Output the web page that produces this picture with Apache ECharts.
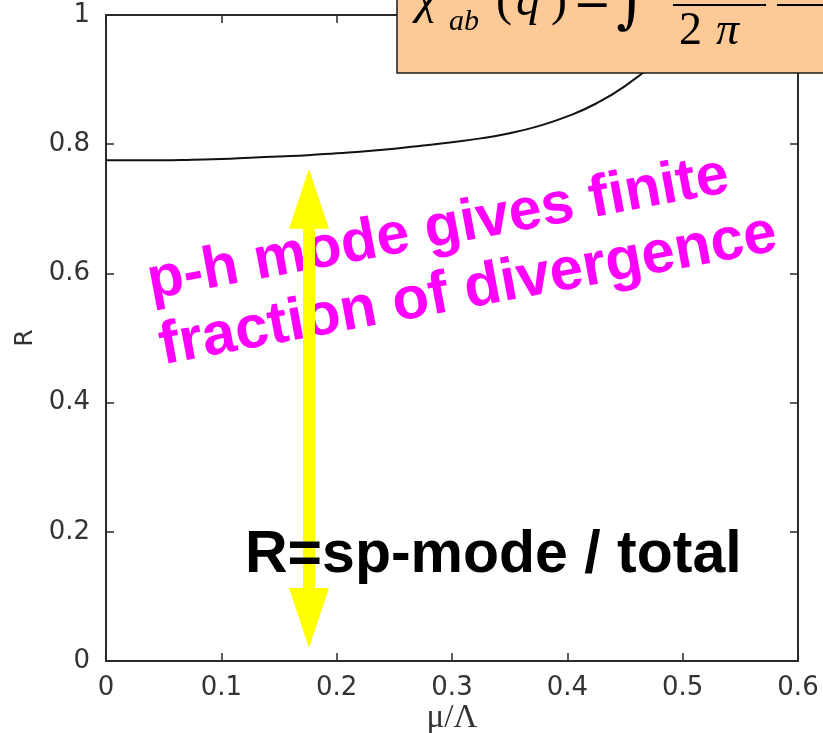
<!DOCTYPE html>
<html>
<head>
<meta charset="utf-8">
<script src="https://cdn.jsdelivr.net/npm/echarts@6/dist/echarts.min.js"></script>
<style>
  html, body { margin: 0; padding: 0; background: #ffffff; }
  #chart { width: 823px; height: 733px; }
</style>
</head>
<body>
<div id="chart"></div>
<script>
// Ratio R of the single-particle mode to the total, against mu/Lambda
const muOverLambda = [0, 0.025, 0.05, 0.075, 0.1, 0.125, 0.15, 0.175, 0.2, 0.225, 0.25, 0.275, 0.3, 0.325, 0.35, 0.375, 0.4, 0.425, 0.45, 0.475, 0.5];
const ratioR       = [0.775, 0.775, 0.775, 0.776, 0.777, 0.779, 0.781, 0.783, 0.786, 0.789, 0.793, 0.798, 0.803, 0.809, 0.817, 0.828, 0.843, 0.863, 0.890, 0.925, 0.97];

// Tick labels
const xTickLabels = ['0', '0.1', '0.2', '0.3', '0.4', '0.5', '0.6'];
const yTickLabels = ['0', '0.2', '0.4', '0.6', '0.8', '1'];

// Double arrow spanning the R range (data units)
const arrowMu = 0.176;
const arrowTopR = 0.762;
const arrowBottomR = 0.020;

const chart = echarts.init(document.getElementById('chart'), null, { renderer: 'canvas' });

const frameColor = '#2a2a2a';
const labelFont = { fontFamily: 'DejaVu Sans', fontSize: 26, color: '#333333' };

function xLabel(v) { return xTickLabels[Math.round(v * 10)]; }
function yLabel(v) { return yTickLabels[Math.round(v * 5)]; }

const baseX = {
  type: 'value', min: 0, max: 0.6, interval: 0.1,
  axisLine: { show: true, onZero: false, lineStyle: { color: frameColor, width: 2 } },
  axisTick: { show: true, inside: true, length: 8, lineStyle: { color: frameColor, width: 1.5 } },
  splitLine: { show: false }
};
const baseY = {
  type: 'value', min: 0, max: 1, interval: 0.2,
  axisLine: { show: true, onZero: false, lineStyle: { color: frameColor, width: 2 } },
  axisTick: { show: true, inside: true, length: 8, lineStyle: { color: frameColor, width: 1.5 } },
  splitLine: { show: false }
};

chart.setOption({
  animation: false,
  backgroundColor: '#ffffff',
  grid: { left: 106, right: 25, top: 15, bottom: 72, containLabel: false, outerBoundsMode: 'none' },
  xAxis: [
    Object.assign({}, baseX, {
      position: 'bottom',
      name: 'μ/Λ', nameLocation: 'middle', nameGap: 41, nameMoveOverlap: false,
      nameTextStyle: { fontFamily: 'Liberation Serif', fontSize: 33, color: '#333333' },
      axisLabel: Object.assign({ margin: 14, formatter: xLabel, showMinLabel: true, showMaxLabel: true }, labelFont)
    }),
    Object.assign({}, baseX, { position: 'top', axisLabel: { show: false } })
  ],
  yAxis: [
    Object.assign({}, baseY, {
      position: 'left',
      name: 'R', nameLocation: 'middle', nameGap: 68, nameMoveOverlap: false,
      nameTextStyle: { fontFamily: 'DejaVu Sans', fontSize: 25, color: '#333333' },
      axisLabel: Object.assign({ margin: 16, formatter: yLabel }, labelFont)
    }),
    Object.assign({}, baseY, { position: 'right', axisLabel: { show: false } })
  ],
  series: [{
    type: 'line',
    xAxisIndex: 0, yAxisIndex: 0,
    data: muOverLambda.map((m, i) => [m, ratioR[i]]),
    smooth: 0.5,
    showSymbol: false,
    lineStyle: { color: '#111111', width: 2 },
    z: 3
  }]
});

// Arrow placed through the axes' own scale
const pTop = chart.convertToPixel({ xAxisIndex: 0, yAxisIndex: 0 }, [arrowMu, arrowTopR]);
const pBot = chart.convertToPixel({ xAxisIndex: 0, yAxisIndex: 0 }, [arrowMu, arrowBottomR]);
const arrowCx = pTop[0], arrowTopY = pTop[1], arrowBotY = pBot[1];
const headLen = 60, headHalf = 20, shaftHalf = 6;
const arrowPts = [
  [arrowCx, arrowTopY], [arrowCx + headHalf, arrowTopY + headLen], [arrowCx + shaftHalf, arrowTopY + headLen],
  [arrowCx + shaftHalf, arrowBotY - headLen], [arrowCx + headHalf, arrowBotY - headLen], [arrowCx, arrowBotY],
  [arrowCx - headHalf, arrowBotY - headLen], [arrowCx - shaftHalf, arrowBotY - headLen],
  [arrowCx - shaftHalf, arrowTopY + headLen], [arrowCx - headHalf, arrowTopY + headLen]
];

const tilt = 10.5 * Math.PI / 180;
const magenta = '#ff00ff';
const calloutFont = 'bold 59px "Liberation Sans", Arial, sans-serif';
const serif = '"Liberation Serif", "Times New Roman", serif';

function mathText(str, x, y, size, italic, family) {
  return {
    type: 'text', x: x, y: y, z: 120,
    style: {
      text: str, fill: '#000000',
      font: (italic ? 'italic ' : '') + size + 'px ' + (family || serif),
      align: 'left', verticalAlign: 'middle'
    }
  };
}

chart.setOption({
  graphic: [
    // callout about the particle-hole mode
    {
      type: 'text', x: 148, y: 283, rotation: tilt, z: 50,
      style: { text: 'p-h mode gives finite', font: calloutFont, fill: magenta, align: 'left', verticalAlign: 'middle' }
    },
    {
      type: 'text', x: 160, y: 348, rotation: tilt, z: 50,
      style: { text: 'fraction of divergence', font: 'bold 60px "Liberation Sans", Arial, sans-serif', fill: magenta, align: 'left', verticalAlign: 'middle' }
    },
    // double-headed arrow
    {
      type: 'polygon', z: 60,
      shape: { points: arrowPts },
      style: { fill: '#ffff00', stroke: null }
    },
    // definition of R
    {
      type: 'text', x: 245, y: 556, z: 70,
      style: { text: 'R=sp-mode / total', font: 'bold 59px "Liberation Sans", Arial, sans-serif', fill: '#000000', align: 'left', verticalAlign: 'middle' }
    },
    // formula box
    {
      type: 'rect', z: 100,
      shape: { x: 397, y: -10, width: 450, height: 83 },
      style: { fill: '#fdca97', stroke: '#1a1a1a', lineWidth: 1.5 }
    },
    mathText('χ', 416, 0, 48, true),
    mathText('ab', 449, 22, 30, true),
    mathText('(', 496, 2, 48, false),
    mathText('q', 516, 2, 48, true),
    mathText(')', 551, 2, 48, false),
    mathText('=', 573, 3, 46, false, '"DejaVu Serif", serif'),
    mathText('∫', 616, 5, 60, false, '"DejaVu Serif", serif'),
    { type: 'line', z: 120, shape: { x1: 673, y1: 5, x2: 766, y2: 5 }, style: { stroke: '#000000', lineWidth: 2 } },
    { type: 'line', z: 120, shape: { x1: 777, y1: 5, x2: 830, y2: 5 }, style: { stroke: '#000000', lineWidth: 2 } },
    mathText('2', 679, 32, 46, false),
    mathText('π', 716, 32, 46, true)
  ]
});
</script>
</body>
</html>
